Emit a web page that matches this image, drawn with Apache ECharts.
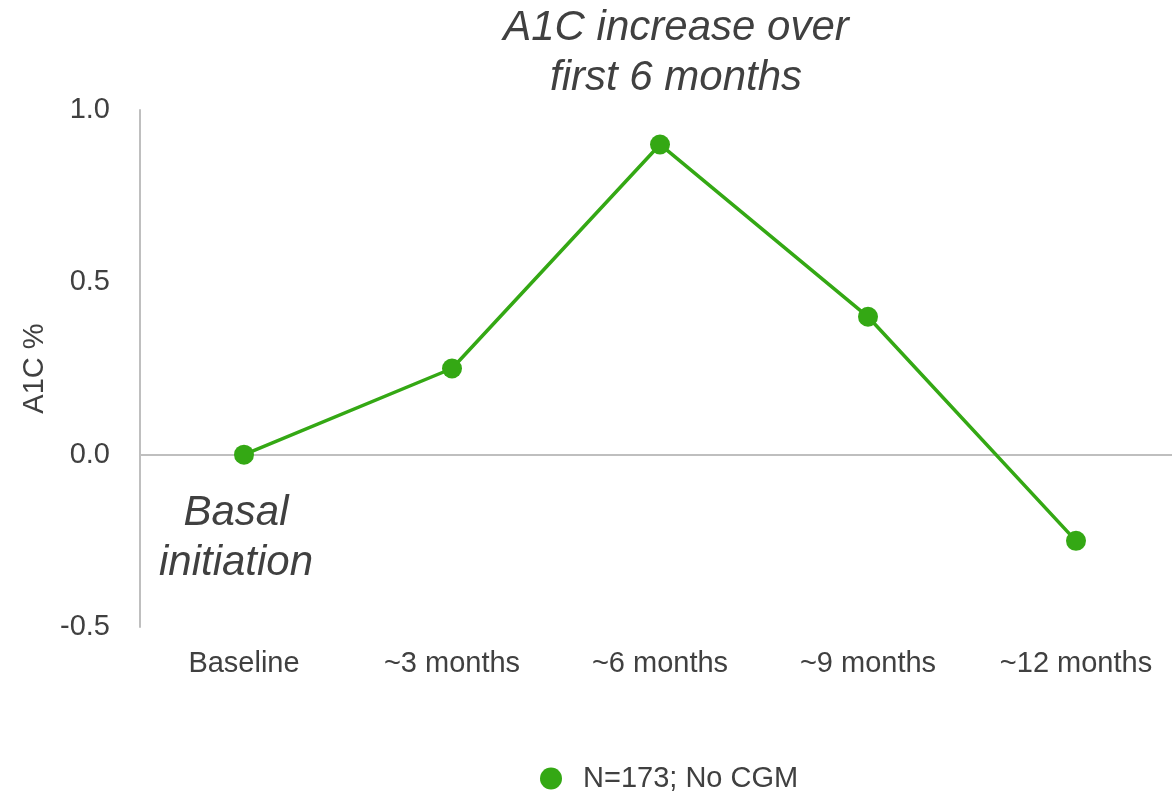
<!DOCTYPE html>
<html>
<head>
<meta charset="utf-8">
<script src="https://cdn.jsdelivr.net/npm/echarts@6/dist/echarts.min.js"></script>
<style>
  html, body { margin: 0; padding: 0; background: #ffffff; overflow: hidden; }
  /* the plot runs a few pixels past the right edge of the window */
  #chart { width: 1180px; height: 797px; }
</style>
</head>
<body>
<div id="chart"></div>
<script>
// A1C change by visit after basal insulin initiation
const categories = ['Baseline', '~3 months', '~6 months', '~9 months', '~12 months'];
const a1cChange = [0, 0.25, 0.9, 0.4, -0.25];
const seriesName = 'N=173; No CGM';
const yTicks = { min: -0.5, max: 1.0, interval: 0.5 };

const FONT = '"Liberation Sans", Arial, sans-serif';
const TEXT = '#404040';
const GREEN = '#34a814';
const AXIS_GREY = '#bfbfbf';

const chart = echarts.init(document.getElementById('chart'), null, { renderer: 'canvas' });

chart.setOption({
  animation: false,
  backgroundColor: '#ffffff',
  textStyle: { fontFamily: FONT },
  grid: { left: 140, top: 110, right: 0, bottom: 170, containLabel: false },
  legend: {
    data: [seriesName],
    left: 535,
    top: 759,
    icon: 'circle',
    itemWidth: 54,
    itemHeight: 22,
    textStyle: { fontFamily: FONT, fontSize: 29, color: TEXT }
  },
  xAxis: [
    {
      type: 'category',
      data: categories,
      boundaryGap: true,
      axisLine: { show: false, onZero: false },
      axisTick: { show: false },
      splitLine: { show: false },
      axisLabel: { fontFamily: FONT, fontSize: 29, color: TEXT, margin: 22, interval: 0 }
    },
    {
      // horizontal reference line at zero
      type: 'category',
      data: categories,
      position: 'bottom',
      axisLine: { show: true, onZero: true, lineStyle: { color: AXIS_GREY, width: 2 } },
      axisTick: { show: false },
      axisLabel: { show: false },
      splitLine: { show: false }
    }
  ],
  yAxis: {
    type: 'value',
    min: yTicks.min,
    max: yTicks.max,
    interval: yTicks.interval,
    name: 'A1C %',
    nameLocation: 'middle',
    nameGap: 91,
    nameTextStyle: { fontFamily: FONT, fontSize: 29, color: TEXT },
    axisLine: { show: true, lineStyle: { color: AXIS_GREY, width: 2 } },
    axisTick: { show: false },
    splitLine: { show: false },
    axisLabel: {
      fontFamily: FONT, fontSize: 29, color: TEXT, margin: 30,
      formatter: v => v.toFixed(1)
    }
  },
  series: [
    {
      name: seriesName,
      type: 'line',
      data: a1cChange,
      symbol: 'circle',
      symbolSize: 20,
      lineStyle: { color: GREEN, width: 3.5 },
      itemStyle: { color: GREEN },
      z: 3
    }
  ],
  graphic: [
    {
      type: 'text',
      style: {
        x: 676,
        y: 3,
        text: 'A1C increase over\nfirst 6 months',
        font: 'italic 42px ' + FONT,
        fill: TEXT,
        align: 'center',
        verticalAlign: 'top',
        lineHeight: 50
      }
    },
    {
      type: 'text',
      style: {
        x: 236,
        y: 488,
        text: 'Basal\ninitiation',
        font: 'italic 42px ' + FONT,
        fill: TEXT,
        align: 'center',
        verticalAlign: 'top',
        lineHeight: 50
      }
    }
  ]
});
</script>
</body>
</html>
